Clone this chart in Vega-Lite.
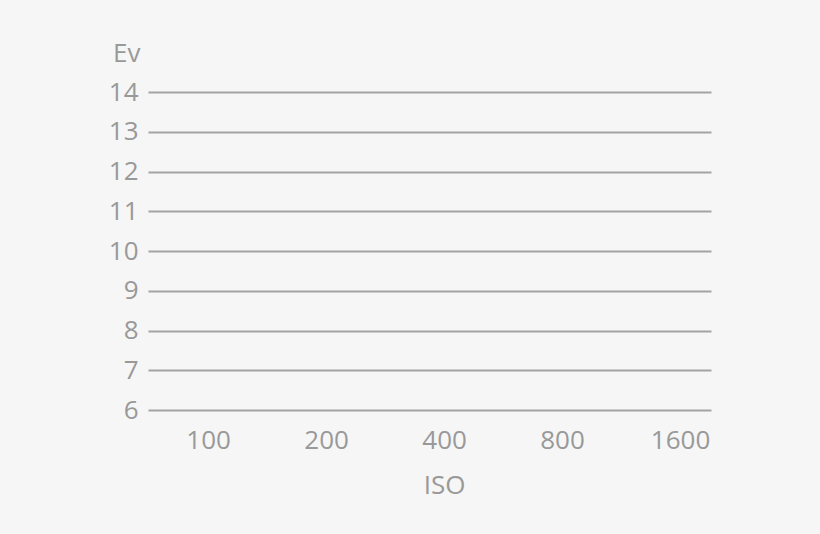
{
  "$schema": "https://vega.github.io/schema/vega-lite/v6.json",
  "description": "Ev vs ISO blank chart",
  "width": 563,
  "height": 318,
  "autosize": {"type": "none"},
  "padding": {"left": 148, "top": 92, "right": 109, "bottom": 124},
  "background": "#f6f6f6",
  "config": {
    "view": {"stroke": null},
    "font": "Open Sans",
    "axis": {
      "labelFont": "Open Sans",
      "titleFont": "Open Sans",
      "labelFontSize": 26,
      "titleFontSize": 26,
      "labelColor": "#999999",
      "titleColor": "#999999",
      "titleFontWeight": "normal",
      "domain": false,
      "ticks": false
    }
  },
  "data": {
    "values": [
      {"iso": "100"},
      {"iso": "200"},
      {"iso": "400"},
      {"iso": "800"},
      {"iso": "1600"}
    ]
  },
  "mark": {"type": "point", "opacity": 0},
  "encoding": {
    "x": {
      "field": "iso",
      "type": "ordinal",
      "sort": null,
      "scale": {"type": "point", "domain": ["100", "200", "400", "800", "1600"], "padding": 0.386, "align": 0.66},
      "axis": {
        "title": "ISO",
        "labelAngle": 0,
        "labelPadding": 17,
        "grid": false,
        "titleX": 296,
        "titleY": 83,
        "titleAlign": "center",
        "titleBaseline": "alphabetic"
      }
    },
    "y": {
      "datum": 10,
      "type": "quantitative",
      "scale": {"domain": [6, 14], "nice": false, "zero": false},
      "axis": {
        "title": "Ev",
        "values": [6, 7, 8, 9, 10, 11, 12, 13, 14],
        "grid": true,
        "gridColor": "#a3a3a3",
        "gridWidth": 2,
        "gridOpacity": 1,
        "labelPadding": 10,
        "titleAngle": 0,
        "titleAlign": "right",
        "titleBaseline": "alphabetic",
        "titleX": -8,
        "titleY": -31
      }
    }
  }
}
